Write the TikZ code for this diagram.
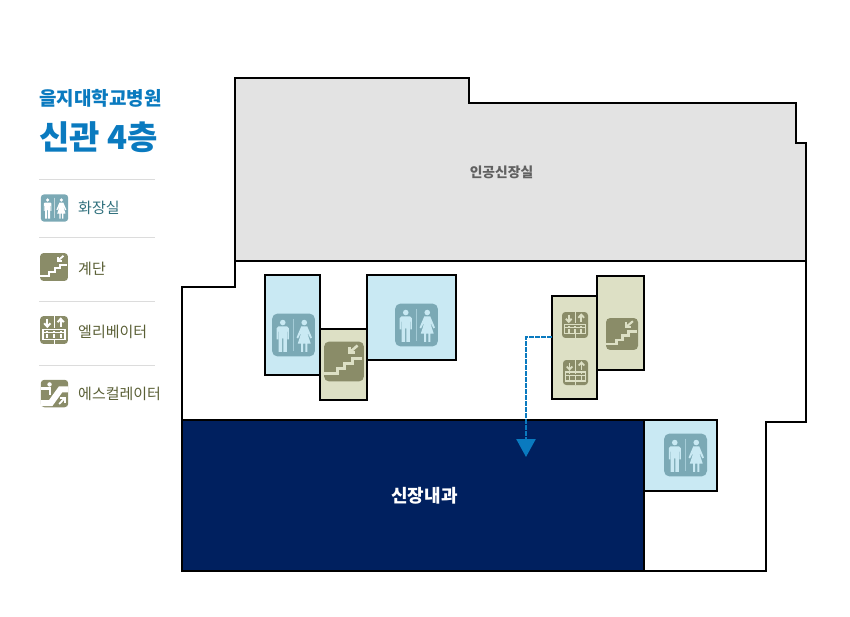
\documentclass[tikz,border=0pt]{standalone}
\usepackage{fontspec}
\setmainfont{Noto Sans CJK KR}
\usetikzlibrary{arrows.meta}
\definecolor{wcbg}{HTML}{7BA9B5}
\definecolor{wcfg}{HTML}{C9E9F3}
\definecolor{stbg}{HTML}{8A8C68}
\definecolor{stfg}{HTML}{DDE0C5}
\definecolor{navy}{HTML}{00205F}
\definecolor{grayroom}{HTML}{E3E3E3}
\definecolor{brandblue}{HTML}{0A7ABF}
\definecolor{legwc}{HTML}{2F6F7C}
\definecolor{legst}{HTML}{5A5F35}
\definecolor{rule}{HTML}{DCDCDC}
\tikzset{
  room/.style={draw=black,line width=2pt,inner sep=0pt,outer sep=0pt,anchor=north west},
  wcroom/.style={room,fill=wcfg},
  stroom/.style={room,fill=stfg},
  route/.style={draw=brandblue,line width=2.5pt,dash pattern=on 5pt off 1pt,-{Triangle[width=19pt,length=18pt,fill=brandblue]}},
  legendtext/.style={anchor=west,inner sep=0pt,font=\fontsize{15}{17}\selectfont},
  legendrule/.style={draw=rule,line width=1pt},
}
% centre x, centre y, size, background, foreground
\newcommand{\iconwc}[5]{\begin{scope}[shift={(#1,#2)},x=#3*0.01pt,y=-#3*0.01pt]
  \fill[#4,rounded corners=#3*0.13pt] (-50,-50) rectangle (50,50);
  \fill[#5] (-25,-29) circle [radius=6.5];
  \fill[#5] (-35,-20) -- (-15,-20) -- (-11,-16) -- (-11,10) -- (-14,10) -- (-14,-8) -- (-15.5,-8) -- (-15.5,39) -- (-23.5,39) -- (-23.5,8) -- (-26.5,8) -- (-26.5,39) -- (-34.5,39) -- (-34.5,-8) -- (-36,-8) -- (-36,10) -- (-39,10) -- (-39,-16) -- cycle;
  \fill[#5] (25,-29) circle [radius=6.5];
  \fill[#5] (18,-20) -- (32,-20) -- (43,6) -- (39.5,8) -- (31,-8) -- (40,20) -- (32,20) -- (32,39) -- (27.5,39) -- (27.5,20) -- (22.5,20) -- (22.5,39) -- (18,39) -- (18,20) -- (10,20) -- (19,-8) -- (10.5,8) -- (7,6) -- cycle;
  \draw[#5,opacity=.55,line width=#3*0.025pt] (0,-38) -- (0,38);
\end{scope}}
\newcommand{\iconst}[5]{\begin{scope}[shift={(#1,#2)},x=#3*0.01pt,y=-#3*0.01pt]
  \fill[#4,rounded corners=#3*0.13pt] (-50,-50) rectangle (50,50);
  \draw[#5,line width=#3*0.075pt,miter limit=4] (-50,31) -- (-17,31) -- (-17,18) -- (2,18) -- (2,5) -- (20,5) -- (20,-8) -- (46,-8);
  \draw[#5,line width=#3*0.065pt] (34,-40) -- (13,-22);
  \draw[#5,line width=#3*0.065pt] (13,-36) -- (13,-22) -- (28,-22);
\end{scope}}
\newcommand{\iconel}[5]{\begin{scope}[shift={(#1,#2)},x=#3*0.01pt,y=-#3*0.01pt]
  \fill[#4,rounded corners=#3*0.13pt] (-50,-50) rectangle (50,50);
  \draw[#5,line width=#3*0.035pt] (0,-50) -- (0,-6) (0,34) -- (0,50);
  \draw[#5,line width=#3*0.075pt] (-24,-40) -- (-24,-12) (24,-12) -- (24,-40);
  \draw[#5,line width=#3*0.07pt] (-35,-24) -- (-24,-12) -- (-13,-24) (13,-28) -- (24,-40) -- (35,-28);
  \draw[#5,line width=#3*0.05pt] (-40,-2) rectangle (40,34);
  \draw[#5,line width=#3*0.04pt] (-40,10) -- (40,10);
  \foreach \dx in {-24,0,24}{
    \fill[#5] (\dx-3,2) rectangle (\dx+3,7);
    \fill[#5] (\dx-3.5,14) rectangle (\dx+3.5,30);
  }
\end{scope}}
\newcommand{\icones}[5]{\begin{scope}[shift={(#1,#2)},x=#3*0.01pt,y=-#3*0.01pt]
  \fill[#4,rounded corners=#3*0.13pt] (-50,-50) rectangle (50,50);
  \fill[#5] (-18,-33) circle [radius=8];
  \draw[#5,line width=#3*0.09pt] (-48,-18) -- (-16,-18) -- (-16,4);
  \fill[#5] (-50,24) -- (-20,24) -- (16,-26) -- (50,-26) -- (50,-4) -- (28,-4) -- (-8,46) -- (-50,46) -- cycle;
  \draw[#5,line width=#3*0.065pt] (17,38) -- (37,17);
  \draw[#5,line width=#3*0.065pt] (20,17) -- (37,17) -- (37,33);
\end{scope}}
\begin{document}
\begin{tikzpicture}[x=1pt,y=-1pt]
\useasboundingbox (0,0) rectangle (850,616);
% floor outline
\draw[black,line width=2pt] (235,261) -- (235,287) -- (182,287) -- (182,571) -- (766,571) -- (766,422) -- (806,422) -- (806,261);
% dialysis room
\filldraw[fill=grayroom,draw=black,line width=2pt] (235,78) -- (469,78) -- (469,103) -- (796,103) -- (796,143) -- (806,143) -- (806,261) -- (235,261) -- cycle;
\node[inner sep=0pt,text=black!62,font=\fontsize{13.8}{15}\selectfont\bfseries] (dialysis) at (501.5,172.5) {인공신장실};
% nephrology
\node[room,fill=navy,minimum width=462pt,minimum height=151pt] (nephro) at (182,420) {};
\node[inner sep=0pt,text=white,font=\fontsize{18}{20}\selectfont\bfseries] (nephrolabel) at (424.5,495.5) {신장내과};
% small rooms
\node[wcroom,minimum width=55pt,minimum height=100pt] (wca) at (265,275) {};
\node[stroom,minimum width=47pt,minimum height=71pt] (sta) at (320,329) {};
\node[wcroom,minimum width=89pt,minimum height=85pt] (wcb) at (367,275) {};
\node[stroom,minimum width=45pt,minimum height=103pt] (elev) at (552,296) {};
\node[stroom,minimum width=47pt,minimum height=94pt] (stb) at (597,276) {};
\node[wcroom,minimum width=73pt,minimum height=71pt] (wcc) at (644,420) {};
% icons in rooms
\iconwc{293.5}{335}{43}{wcbg}{wcfg}
\iconst{344}{361.5}{40}{stbg}{stfg}
\iconwc{416.5}{325}{43}{wcbg}{wcfg}
\iconel{575}{325}{26}{stbg}{stfg}
\iconel{575.5}{372.5}{25}{stbg}{stfg}
\iconst{622}{334}{32}{stbg}{stfg}
\iconwc{685.5}{455}{43}{wcbg}{wcfg}
% route
\coordinate (routebend) at (526,337);
\coordinate (routeend) at (526,457);
\draw[route] (elev.west |- routebend) -- (routebend) -- (routeend);
% title
\node[anchor=west,inner sep=0pt,text=brandblue,font=\fontsize{19}{22}\selectfont\bfseries] (hospital) at (39,98) {을지대학교병원};
\node[anchor=west,inner sep=0pt,text=brandblue,font=\fontsize{33}{36}\selectfont\bfseries] (floor) at (39,137) {신관 4층};
% legend
\draw[legendrule] (39,179.5) -- (155,179.5);
\draw[legendrule] (39,237.5) -- (155,237.5);
\draw[legendrule] (39,301.5) -- (155,301.5);
\draw[legendrule] (39,365.5) -- (155,365.5);
\iconwc{54.5}{208}{27.5}{wcbg}{white}
\iconst{54}{267}{28}{stbg}{white}
\iconel{54}{330}{28}{stbg}{white}
\icones{54.5}{393.5}{27.5}{stbg}{white}
\node[legendtext,text=legwc] (lega) at (78,208) {화장실};
\node[legendtext,text=legst] (legb) at (78,269) {계단};
\node[legendtext,text=legst] (legc) at (78,331.5) {엘리베이터};
\node[legendtext,text=legst] (legd) at (78,394) {에스컬레이터};
\end{tikzpicture}
\end{document}
